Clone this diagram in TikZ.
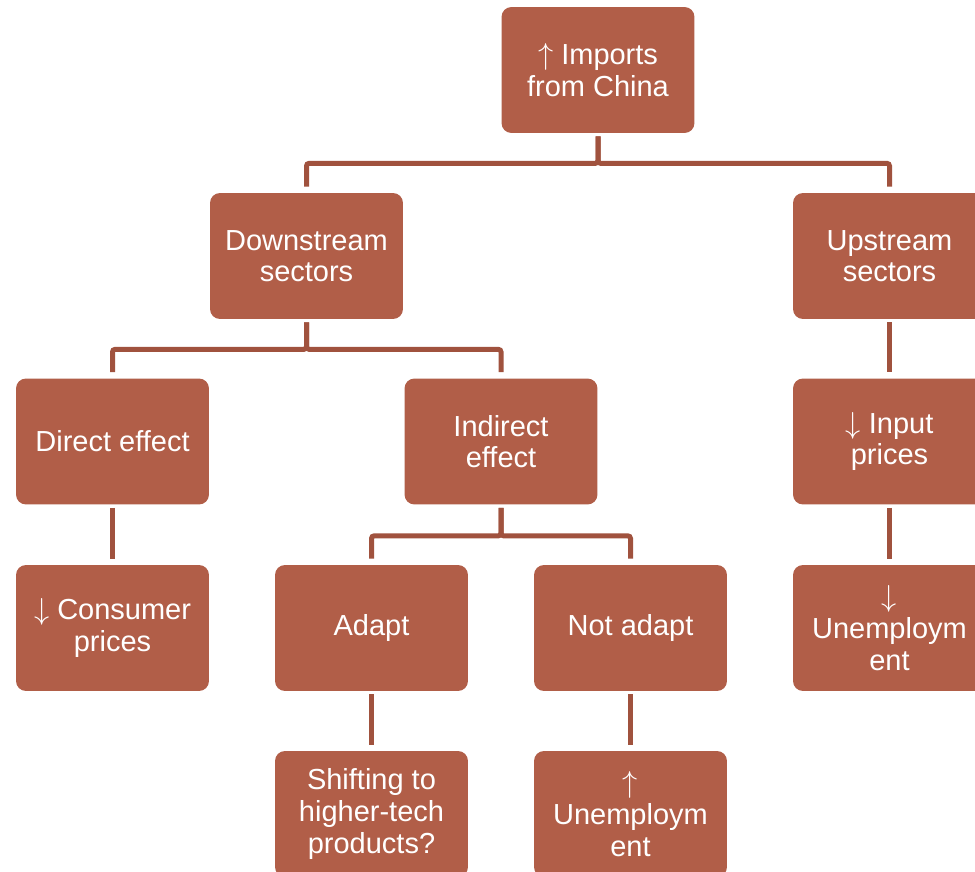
\documentclass[tikz,border=0pt]{standalone}
\usepackage{fontspec}
\setmainfont{Liberation Sans}
\usepackage{xcolor}
\usepackage{tikz}
\definecolor{boxfill}{RGB}{177,94,72}
\definecolor{linkcol}{RGB}{160,82,62}
\newcommand{\upar}{\(\uparrow\)}
\newcommand{\downar}{\(\downarrow\)}

\begin{document}
\begin{tikzpicture}[x=0.02cm,y=-0.02cm,
  every node/.style={rectangle, rounded corners=0.2cm, fill=boxfill, text=white, minimum width=3.86cm, minimum height=2.52cm, inner sep=0pt, align=center, font=\fontsize{16.5}{18}\selectfont},
  link/.style={draw=linkcol, line width=0.1cm, rounded corners=1.5pt, shorten <=0.06cm, shorten >=0.12cm}]
\useasboundingbox (0,0) rectangle (975,872);
% Boxes
\node (imp) at (598,70) {\upar{} Imports\\from China};
\node (down) at (306.5,256) {Downstream\\sectors};
\node (up) at (889.5,256) {Upstream\\sectors};
\node (dir) at (112.5,441.5) {Direct effect};
\node (ind) at (501,441.5) {Indirect\\effect};
\node (inp) at (889.5,441.5) {\downar{} Input\\prices};
\node (cons) at (112.5,628) {\downar{} Consumer\\prices};
\node (adapt) at (371.5,628) {Adapt};
\node (nadapt) at (630.5,628) {Not adapt};
\node (unup) at (889.5,628) {\downar\\Unemploym\\ent};
\node (shift) at (371.5,814) {Shifting to\\higher-tech\\products?};
\node (unnot) at (630.5,814) {\upar\\Unemploym\\ent};

%Lines
\draw[link] (imp.south) -- ++(0,30) -| (down.north);
\draw[link] (imp.south) -- ++(0,30) -| (up.north);
\draw[link] (down.south) -- ++(0,30) -| (dir.north);
\draw[link] (down.south) -- ++(0,30) -| (ind.north);
\draw[link] (ind.south) -- ++(0,31) -| (adapt.north);
\draw[link] (ind.south) -- ++(0,31) -| (nadapt.north);
\draw[link] (up) -- (inp);
\draw[link] (inp) -- (unup);
\draw[link] (dir) -- (cons);
\draw[link] (adapt) -- (shift);
\draw[link] (nadapt) -- (unnot);
\end{tikzpicture}
\end{document}
